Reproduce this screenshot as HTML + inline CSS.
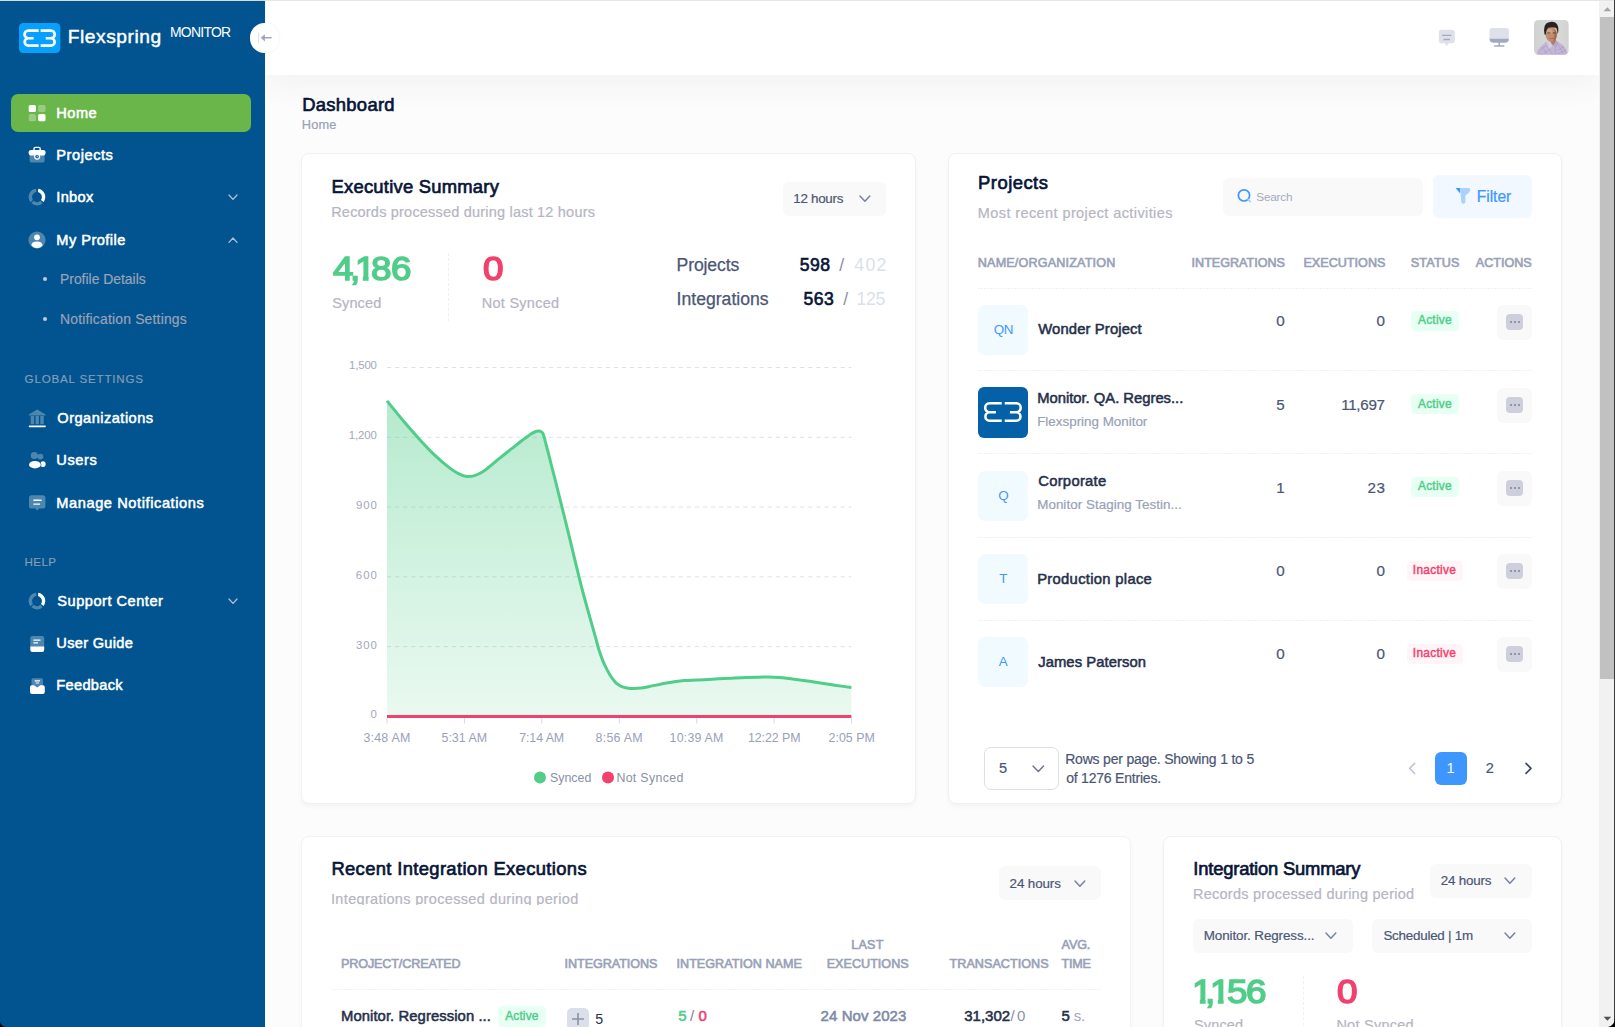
<!DOCTYPE html>
<html lang="en"><head><meta charset="utf-8"><title>Flexspring Monitor - Dashboard</title>
<style>
*{box-sizing:border-box;margin:0;padding:0}
html,body{width:1615px;height:1027px;overflow:hidden;background:#fcfcfc;font-family:"Liberation Sans",sans-serif;}
#app{position:relative;width:1615px;height:1027px;overflow:hidden;background:#fcfcfc}
.t{position:absolute;white-space:nowrap;line-height:1;font-weight:400}
.abs{position:absolute}
.card{position:absolute;background:#fff;border:1px solid #f1f1f3;border-radius:8px;box-shadow:0 3px 4px rgba(0,0,0,.03)}
.dd{position:absolute;background:#f9f9f9;border-radius:6px}
.hdash{position:absolute;height:1px;background:repeating-linear-gradient(90deg,#f0f1f5 0 2px,transparent 2px 3px)}
.av{position:absolute;width:50px;height:50px;border-radius:7px;background:#f1faff}
.bdg{position:absolute;border-radius:4.5px}
.act{position:absolute;width:35px;height:35px;border-radius:6px;background:#f9f9f9}
.act i{position:absolute;left:9.1px;top:9.2px;width:16.7px;height:16.2px;border-radius:4px;background:#cdd0dc}
.act b{position:absolute;top:16.3px;width:2px;height:2px;border-radius:1px;background:#7e8299}
svg{position:absolute;overflow:visible}
</style></head><body><div id="app">
<header class="abs" style="left:265px;top:0;width:1335px;height:74.5px;background:#fff;box-shadow:0 10px 30px rgba(82,63,105,.05)"></header>
<aside class="abs" style="left:0;top:0;width:265px;height:1027px;background:#01548f"></aside>
<div class="abs" style="left:0;top:0;width:1615px;height:1px;background:rgba(226,229,229,.95)"></div>
<div class="abs" style="left:1599px;top:1px;width:16px;height:1026px;background:#f1f1f1"></div>
<div class="abs" style="left:1600px;top:17px;width:14px;height:662px;background:#c1c1c1"></div>
<div class="abs" style="left:1614px;top:0;width:1px;height:1027px;background:#3a3a3a"></div>
<svg style="left:1600px;top:0" width="15" height="1027"><path d="M3.6 11.2 L7.4 7.2 L11.2 11.2Z" fill="#a3a3a3"/><path d="M3.6 1016.8 L11.2 1016.8 L7.4 1020.8Z" fill="#505050"/><path d="M15 1018 L15 1027 L8 1027 Q14.2 1026 15 1018Z" fill="#000"/><path d="M-1600 1021 Q-1599.5 1026.5 -1594 1027 L-1600 1027Z" fill="#0a0a0a"/></svg>
<section class="card" style="left:301px;top:153px;width:615px;height:651px"></section>
<section class="card" style="left:948px;top:153px;width:614px;height:651px"></section>
<section class="card" style="left:301px;top:836px;width:830px;height:300px"></section>
<section class="card" style="left:1163px;top:836px;width:399px;height:300px"></section>
<svg style="left:19.26px;top:22.87px" width="41.3" height="30" viewBox="0 0 41.3 30">
<rect x="0" y="0" width="41.3" height="30" rx="4.2" fill="#06a0fe"/>
<g fill="none" stroke="#fff" stroke-width="2.7" stroke-linecap="butt" stroke-linejoin="round">
<path d="M19.67 7.67 H9.35 A3.8 3.8 0 0 0 9.35 15.27 H14.6 M9.35 15.27 A3.66 3.66 0 0 0 9.35 22.59 H19.67"/>
<path d="M21.62 7.67 H31.95 A3.8 3.8 0 0 1 31.95 15.27 H26.7 M31.95 15.27 A3.66 3.66 0 0 1 31.95 22.59 H21.62"/>
</g></svg>
<span class="t" style="left:67.80px;top:26px;line-height:21px;font-size:19.2px;color:#ffffff;letter-spacing:0.529px;-webkit-text-stroke:.45px #fff;">Flexspring</span>
<span class="t" style="left:170.00px;top:24px;line-height:16px;font-size:13.9px;color:#ffffff;letter-spacing:-0.717px;">MONITOR</span>
<div class="abs" style="left:249.7px;top:22.9px;width:29.7px;height:30px;border-radius:15px;background:#fff;box-shadow:0 0 3px rgba(60,60,90,.08)"></div>
<svg style="left:255px;top:31px" width="20" height="14"><path d="M3.5 1.8V11.8" stroke="#dcdfe9" stroke-width="1.1" fill="none"/><path d="M5.7 6.8 L9.9 3.2 V10.4Z" fill="#a0a5bc"/><path d="M9.5 6.8H16" stroke="#a0a5bc" stroke-width="1.6" fill="none" stroke-linecap="round"/></svg>
<div class="abs" style="left:11.4px;top:94.2px;width:239.3px;height:37.4px;border-radius:7px;background:#6bb64b"></div>
<svg style="left:28px;top:104.2px" width="18" height="18" viewBox="0 0 18 18"><rect x=".7" y=".9" width="7.3" height="7.2" rx="1.6" fill="#fff"/><rect x="10.1" y=".9" width="7.4" height="7.2" rx="1.6" fill="#fff" fill-opacity=".3"/><rect x=".7" y="10.1" width="7.3" height="7.2" rx="1.6" fill="#fff" fill-opacity=".3"/><rect x="10.1" y="10.1" width="7.4" height="7.2" rx="1.6" fill="#fff"/></svg>
<svg style="left:28px;top:146.4px" width="18" height="18" viewBox="0 0 18 18"><path d="M1.6 8 H16.6 V14.4 Q16.6 16.6 14.4 16.6 H3.8 Q1.6 16.6 1.6 14.4Z" fill="#fff" fill-opacity=".3"/><path d="M6 4.2 V2.8 Q6 1.4 7.4 1.4 H10.8 Q12.2 1.4 12.2 2.8 V4.2" fill="none" stroke="#fff" stroke-width="1.4"/><path d="M3 3.9 H15.2 Q17.6 3.9 17.6 6.6 Q17.6 9.6 15.2 9.6 H3 Q0.6 9.6 0.6 6.6 Q0.6 3.9 3 3.9Z" fill="#fff"/><circle cx="9.1" cy="10.6" r="3.1" fill="#fff"/><circle cx="9.1" cy="10.6" r="1.9" fill="#2f6fa3"/><path d="M9.1 10.8 L10 9.6" stroke="#fff" stroke-width=".8" fill="none"/></svg>
<svg style="left:28px;top:188.2px" width="18" height="18" viewBox="0 0 18 18"><path d="M10.3 .7 A8.4 8.4 0 0 1 15.6 14 L12.9 12 A5 5 0 0 0 9.9 4.1Z" fill="#fff"/><path d="M14.6 15.2 A8.4 8.4 0 0 1 3.4 15.3 L5.7 12.8 A5 5 0 0 0 12.3 12.7Z" fill="#fff" fill-opacity=".3"/><path d="M2.4 14.2 A8.4 8.4 0 0 1 8.1 .7 L8.4 4.1 A5 5 0 0 0 5 12Z" fill="#fff" fill-opacity=".3"/></svg>
<svg style="left:28px;top:230.8px" width="18" height="18" viewBox="0 0 18 18"><circle cx="9" cy="9" r="8.6" fill="#fff" fill-opacity=".3"/><circle cx="9" cy="6.3" r="2.9" fill="#fff"/><path d="M3.4 14.6 Q3.6 10.6 9 10.6 Q14.4 10.6 14.6 14.6 Q12.4 17.2 9 17.2 Q5.6 17.2 3.4 14.6Z" fill="#fff"/></svg>
<svg style="left:28px;top:409.4px" width="18" height="18" viewBox="0 0 18 18"><path d="M9.2 .5 L17.6 5.6 V6.6 H.8 V5.6Z" fill="#fff" fill-opacity=".3"/><rect x="2.7" y="7" width="3.4" height="8.2" fill="#fff" fill-opacity=".3"/><rect x="7.5" y="7" width="3.4" height="8.2" fill="#fff" fill-opacity=".3"/><rect x="12.3" y="7" width="3.4" height="8.2" fill="#fff" fill-opacity=".3"/><rect x=".8" y="16.5" width="17" height="1.7" rx=".6" fill="#fff"/></svg>
<svg style="left:28px;top:451.3px" width="18" height="18" viewBox="0 0 18 18"><circle cx="6.3" cy="4.6" r="3.5" fill="#fff" fill-opacity=".3"/><circle cx="12.4" cy="5.6" r="2.9" fill="#fff" fill-opacity=".3"/><ellipse cx="15" cy="13.1" rx="2.7" ry="2.9" fill="#fff"/><ellipse cx="6.9" cy="13.7" rx="6.5" ry="4" fill="#01548f"/><ellipse cx="6.9" cy="13.7" rx="5.9" ry="3.7" fill="#fff"/></svg>
<svg style="left:28px;top:493.8px" width="18" height="18" viewBox="0 0 18 18"><path d="M3.6 1.2 H14.8 Q17.4 1.2 17.4 3.8 V11.9 Q17.4 14.5 14.8 14.5 H11 L9.2 16.8 L7.4 14.5 H3.6 Q1 14.5 1 11.9 V3.8 Q1 1.2 3.6 1.2Z" fill="#fff" fill-opacity=".3"/><path d="M5.4 6.2 H13.6 M5.4 10.1 H12" stroke="#fff" stroke-width="1.4" fill="none"/></svg>
<svg style="left:28px;top:592.0px" width="18" height="18" viewBox="0 0 18 18"><path d="M10.3 .7 A8.4 8.4 0 0 1 15.6 14 L12.9 12 A5 5 0 0 0 9.9 4.1Z" fill="#fff"/><path d="M14.6 15.2 A8.4 8.4 0 0 1 3.4 15.3 L5.7 12.8 A5 5 0 0 0 12.3 12.7Z" fill="#fff" fill-opacity=".3"/><path d="M2.4 14.2 A8.4 8.4 0 0 1 8.1 .7 L8.4 4.1 A5 5 0 0 0 5 12Z" fill="#fff" fill-opacity=".3"/></svg>
<svg style="left:28px;top:634.6px" width="18" height="18" viewBox="0 0 18 18"><path d="M4.3 1.1 H14.2 Q16.2 1.1 16.2 3.1 V12.2 H2.3 V3.1 Q2.3 1.1 4.3 1.1Z" fill="#fff" fill-opacity=".3"/><path d="M5.4 5.2 H12.5 M5.4 7.8 H10" stroke="#fff" stroke-width="1.2" fill="none"/><path d="M2.3 11.6 H16.2 V15 Q16.2 17 14.2 17 H4.3 Q2.3 17 2.3 15Z" fill="#fff"/></svg>
<svg style="left:28px;top:676.8px" width="18" height="18" viewBox="0 0 18 18"><path d="M5 1.2 H13.4 Q14.9 1.2 14.9 2.7 V12 H3.5 V2.7 Q3.5 1.2 5 1.2Z" fill="#fff" fill-opacity=".3"/><path d="M6.7 3.9 H12 M7.7 6 H11" stroke="#fff" stroke-width="1.1" fill="none"/><path d="M3.6 8.2 H6 L9.2 10.6 L12.4 8.2 H14.8 Q16.8 8.2 16.8 10.2 V15 Q16.8 17 14.8 17 H4 Q2 17 2 15 V10.2 Q2 8.2 3.6 8.2Z" fill="#fff"/></svg>
<span class="t" style="left:56.30px;top:105px;line-height:16px;font-size:14.6px;color:#ffffff;-webkit-text-stroke:0.53px #ffffff;letter-spacing:0.463px;">Home</span>
<span class="t" style="left:56.30px;top:147px;line-height:16px;font-size:14.6px;color:#ffffff;-webkit-text-stroke:0.53px #ffffff;letter-spacing:0.554px;">Projects</span>
<span class="t" style="left:56.30px;top:189px;line-height:16px;font-size:14.6px;color:#ffffff;-webkit-text-stroke:0.53px #ffffff;letter-spacing:0.299px;">Inbox</span>
<span class="t" style="left:56.30px;top:232px;line-height:16px;font-size:14.6px;color:#ffffff;-webkit-text-stroke:0.53px #ffffff;letter-spacing:0.471px;">My Profile</span>
<span class="t" style="left:57.30px;top:410px;line-height:16px;font-size:14.6px;color:#ffffff;-webkit-text-stroke:0.53px #ffffff;letter-spacing:0.480px;">Organizations</span>
<span class="t" style="left:56.30px;top:452px;line-height:16px;font-size:14.6px;color:#ffffff;-webkit-text-stroke:0.53px #ffffff;letter-spacing:0.597px;">Users</span>
<span class="t" style="left:56.30px;top:495px;line-height:16px;font-size:14.6px;color:#ffffff;-webkit-text-stroke:0.53px #ffffff;letter-spacing:0.590px;">Manage Notifications</span>
<span class="t" style="left:57.30px;top:593px;line-height:16px;font-size:14.6px;color:#ffffff;-webkit-text-stroke:0.53px #ffffff;letter-spacing:0.507px;">Support Center</span>
<span class="t" style="left:56.30px;top:635px;line-height:16px;font-size:14.6px;color:#ffffff;-webkit-text-stroke:0.53px #ffffff;letter-spacing:0.301px;">User Guide</span>
<span class="t" style="left:56.30px;top:677px;line-height:16px;font-size:14.6px;color:#ffffff;-webkit-text-stroke:0.53px #ffffff;letter-spacing:0.315px;">Feedback</span>
<span class="t" style="left:60.00px;top:271px;line-height:16px;font-size:13.9px;color:#9aa3b8;-webkit-text-stroke:0.19px #9aa3b8;">Profile Details</span>
<span class="t" style="left:60.00px;top:311px;line-height:16px;font-size:13.9px;color:#9aa3b8;-webkit-text-stroke:0.19px #9aa3b8;letter-spacing:0.199px;">Notification Settings</span>
<div class="abs" style="left:43.4px;top:277.2px;width:4px;height:4px;border-radius:2px;background:#c4c8dc"></div>
<div class="abs" style="left:43.4px;top:317.4px;width:4px;height:4px;border-radius:2px;background:#c4c8dc"></div>
<span class="t" style="left:24.60px;top:372px;line-height:13px;font-size:11.6px;color:#879db8;-webkit-text-stroke:0.16px #879db8;letter-spacing:0.810px;">GLOBAL SETTINGS</span>
<span class="t" style="left:24.60px;top:555px;line-height:13px;font-size:11.6px;color:#879db8;-webkit-text-stroke:0.16px #879db8;letter-spacing:0.349px;">HELP</span>
<svg style="left:229.2px;top:195.4px" width="8" height="4.4"><path d="M0 0 L4.0 4.4 L8 0" fill="none" stroke="#aebfd6" stroke-width="1.3" stroke-linecap="round" stroke-linejoin="round"/></svg>
<svg style="left:229.2px;top:237.6px" width="8" height="4.4"><path d="M0 4.4 L4.0 0 L8 4.4" fill="none" stroke="#aebfd6" stroke-width="1.3" stroke-linecap="round" stroke-linejoin="round"/></svg>
<svg style="left:229.2px;top:599.0px" width="8" height="4.4"><path d="M0 0 L4.0 4.4 L8 0" fill="none" stroke="#aebfd6" stroke-width="1.3" stroke-linecap="round" stroke-linejoin="round"/></svg>
<svg style="left:1438px;top:29px" width="18" height="18" viewBox="0 0 18 18"><path d="M3.6 .8 H14 Q16.8 .8 16.8 3.6 V11.4 Q16.8 14.2 14 14.2 H10.8 L8.8 16.9 L6.8 14.2 H3.6 Q.8 14.2 .8 11.4 V3.6 Q.8 .8 3.6 .8Z" fill="#dfe1ea"/><path d="M4 6.4 H13.2 M5.5 10.5 H12" stroke="#a3a8bd" stroke-width="1.3" fill="none"/></svg>
<svg style="left:1489px;top:27px" width="21" height="21" viewBox="0 0 21 21"><path d="M3.4 1 H17 Q19.9 1 19.9 3.8 V12 H.5 V3.8 Q.5 1 3.4 1Z" fill="#dfe1ea"/><path d="M.5 11.7 H19.9 Q19.9 15.8 15.6 15.8 H4.8 Q.5 15.8 .5 11.7Z" fill="#a3a8bd"/><path d="M10.2 15.6 V18.8 M5.6 19.1 H14.8" stroke="#a3a8bd" stroke-width="1.5" fill="none" stroke-linecap="round"/></svg>
<svg style="left:1534.1px;top:20.1px" width="34.8" height="34.8" viewBox="0 0 35 35"><defs><clipPath id="avc"><rect width="35" height="35" rx="4.6"/></clipPath><filter id="avb" x="-10%" y="-10%" width="120%" height="120%"><feGaussianBlur stdDeviation=".55"/></filter>
<linearGradient id="avg" x1="0" x2="1" y1="0" y2="0"><stop offset="0" stop-color="#d0d3d1"/><stop offset=".7" stop-color="#d9dad8"/><stop offset="1" stop-color="#d2d3d0"/></linearGradient></defs>
<g clip-path="url(#avc)"><rect width="35" height="35" fill="url(#avg)"/><g filter="url(#avb)">
<path d="M2.4 36 Q2.6 29.6 7 26.6 L12.4 21.4 L15.4 19.6 L22 21.2 L24.6 21.8 Q29.4 24.6 32 28.6 Q33.6 31.6 33.6 36Z" fill="#c3b7d6"/>
<path d="M15 20.4 L19.4 25.6 L22.4 21.6 L21.8 18 H15.4Z" fill="#b07c5e"/>
<path d="M12.4 21.6 L15.2 19.6 L18.4 26 L15.4 29.4Z" fill="#d6cde4"/>
<path d="M22 21.2 L24.6 22.4 L22.4 27.8 L19.4 25.6Z" fill="#b4a5cc"/>
<path d="M8 27 L13 34 M12 25 L19 35 M4 31 L8 35 M21 27 L21.6 35 M24 23.6 L29.4 34 M27.6 25.6 L32.6 33 M6 30.4 L12 25.8 M9.6 34 L17 28.6 M22.6 30.6 L30 27 M23 34.4 L32 30.4" stroke="#9577bd" stroke-width=".7" fill="none" opacity=".45"/>
<ellipse cx="17.4" cy="14.2" rx="5.9" ry="7.6" fill="#c08d6e"/>
<ellipse cx="15.6" cy="11.4" rx="3" ry="2.6" fill="#cfa286"/>
<path d="M20.4 9 Q23.4 12 22.6 17.4 Q21.4 20.6 19 21.6 Q21.4 17 20.4 9Z" fill="#9a6a50"/>
<path d="M10.6 14.6 Q8.6 3.6 15 2.2 Q21 0.6 23.6 5 Q25.4 8.6 23.8 14.4 Q23.4 10 22.4 8 Q18.6 6.6 14.6 7.8 Q12.4 9 11.8 14.8Z" fill="#2a2321"/>
<path d="M13.4 13 H16.4 M19 13 H21.8" stroke="#5a4640" stroke-width="1" fill="none"/>
<path d="M15.6 18.3 Q17.8 19.2 20 18.2" stroke="#a2605a" stroke-width=".9" fill="none"/>
</g></g></svg>
<span class="t" style="left:302.30px;top:94px;line-height:21px;font-size:18.4px;color:#071437;-webkit-text-stroke:0.66px #071437;letter-spacing:0.282px;">Dashboard</span>
<span class="t" style="left:301.80px;top:117px;line-height:15px;font-size:12.8px;color:#99a1b7;-webkit-text-stroke:0.18px #99a1b7;letter-spacing:0.127px;">Home</span>
<span class="t" style="left:331.50px;top:176px;line-height:21px;font-size:18.4px;color:#071437;-webkit-text-stroke:0.66px #071437;letter-spacing:0.242px;">Executive Summary</span>
<span class="t" style="left:331.20px;top:204px;line-height:16px;font-size:14.5px;color:#b5b5c3;-webkit-text-stroke:0.20px #b5b5c3;letter-spacing:0.201px;">Records processed during last 12 hours</span>
<div class="dd" style="left:783.3px;top:182px;width:102.7px;height:33.6px"></div>
<span class="t" style="left:793.30px;top:191px;line-height:15px;font-size:13.4px;color:#4b5675;-webkit-text-stroke:0.19px #4b5675;letter-spacing:-0.288px;">12 hours</span>
<svg style="left:859.8px;top:196.2px" width="9.8" height="5.3"><path d="M0 0 L4.9 5.3 L9.8 0" fill="none" stroke="#7680a0" stroke-width="1.45" stroke-linecap="round" stroke-linejoin="round"/></svg>
<span class="t" style="left:332.20px;top:295px;line-height:16px;font-size:14.5px;color:#b5b5c3;-webkit-text-stroke:0.20px #b5b5c3;letter-spacing:0.140px;">Synced</span>
<span class="t" style="left:481.80px;top:295px;line-height:16px;font-size:14.5px;color:#b5b5c3;-webkit-text-stroke:0.20px #b5b5c3;letter-spacing:0.256px;">Not Synced</span>
<div class="abs" style="left:448px;top:253px;width:0;height:68px;border-left:1px dashed #f0f0f4"></div>
<span class="t" style="left:676.60px;top:255px;line-height:20px;font-size:17.6px;color:#4b5675;-webkit-text-stroke:0.25px #4b5675;letter-spacing:-0.137px;">Projects</span>
<span class="t" style="left:676.60px;top:289px;line-height:20px;font-size:17.6px;color:#4b5675;-webkit-text-stroke:0.25px #4b5675;letter-spacing:0.005px;">Integrations</span>
<span class="t" style="left:799.80px;top:255px;line-height:20px;font-size:17.6px;color:#071437;-webkit-text-stroke:0.63px #071437;letter-spacing:0.415px;">598</span>
<span class="t" style="left:803.60px;top:289px;line-height:20px;font-size:17.6px;color:#071437;-webkit-text-stroke:0.63px #071437;letter-spacing:0.415px;">563</span>
<span class="t" style="left:839.20px;top:255px;line-height:20px;font-size:17.6px;color:#8a90a8;">/</span>
<span class="t" style="left:843.20px;top:289px;line-height:20px;font-size:17.6px;color:#8a90a8;">/</span>
<span class="t" style="left:854.20px;top:255px;line-height:20px;font-size:17.6px;color:#dbdfe9;letter-spacing:1.415px;">402</span>
<span class="t" style="left:856.60px;top:289px;line-height:20px;font-size:17.6px;color:#dbdfe9;letter-spacing:-0.285px;">125</span>
<svg style="left:0;top:0" width="1615" height="1027"><defs><linearGradient id="ga" x1="0" y1="400" x2="0" y2="716" gradientUnits="userSpaceOnUse"><stop offset="0" stop-color="#50cd89" stop-opacity=".42"/><stop offset=".45" stop-color="#50cd89" stop-opacity=".28"/><stop offset="1" stop-color="#50cd89" stop-opacity=".12"/></linearGradient></defs>
<path d="M387 367.5 H851.5" stroke="#dfe1ea" stroke-width="1" stroke-dasharray="4.2 3.9" fill="none"/><path d="M387 437.3 H851.5" stroke="#dfe1ea" stroke-width="1" stroke-dasharray="4.2 3.9" fill="none"/><path d="M387 507.0 H851.5" stroke="#dfe1ea" stroke-width="1" stroke-dasharray="4.2 3.9" fill="none"/><path d="M387 576.8 H851.5" stroke="#dfe1ea" stroke-width="1" stroke-dasharray="4.2 3.9" fill="none"/><path d="M387 646.6 H851.5" stroke="#dfe1ea" stroke-width="1" stroke-dasharray="4.2 3.9" fill="none"/><path d="M387.0 718 V723.5" stroke="#d6d9e3" stroke-width="1" fill="none"/><path d="M464.4 718 V723.5" stroke="#d6d9e3" stroke-width="1" fill="none"/><path d="M541.8 718 V723.5" stroke="#d6d9e3" stroke-width="1" fill="none"/><path d="M619.3 718 V723.5" stroke="#d6d9e3" stroke-width="1" fill="none"/><path d="M696.7 718 V723.5" stroke="#d6d9e3" stroke-width="1" fill="none"/><path d="M774.1 718 V723.5" stroke="#d6d9e3" stroke-width="1" fill="none"/><path d="M851.5 718 V723.5" stroke="#d6d9e3" stroke-width="1" fill="none"/>
<path d="M387.0 400.9C387.0 400.9 397.0 413.3 402.2 419.5C407.4 425.7 412.9 432.0 418.3 438.0C423.6 443.8 428.9 449.7 434.4 454.9C439.6 459.9 446.0 465.3 450.5 468.6C453.5 470.8 455.8 472.3 458.5 473.6C461.1 474.9 463.9 476.2 466.6 476.5C469.2 476.8 472.0 476.3 474.6 475.6C477.4 474.8 479.7 473.7 482.7 471.8C487.3 468.9 494.5 462.4 498.8 458.9C501.7 456.6 503.8 454.9 506.2 453.0C508.4 451.3 510.3 449.7 512.4 448.1C514.5 446.5 516.5 444.8 518.6 443.2C520.7 441.6 522.7 439.9 524.8 438.4C526.9 436.9 529.2 435.1 531.0 434.0C532.4 433.2 533.4 432.5 534.7 432.0C535.9 431.5 537.3 431.1 538.4 431.1C539.3 431.1 540.2 431.1 540.9 431.5C541.6 431.9 542.2 432.5 542.7 433.2C543.3 434.1 543.6 435.4 544.0 436.6C544.5 438.0 544.8 439.5 545.2 441.2C545.8 443.3 546.4 445.8 547.1 448.4C547.9 451.3 548.7 454.4 549.5 457.7C550.5 461.5 551.6 465.9 552.6 469.8C553.5 473.3 554.1 475.7 555.2 480.0C557.1 487.7 560.7 501.8 563.2 512.0C565.5 521.2 567.2 528.0 569.7 538.4C573.3 553.2 578.4 575.0 583.0 592.5C587.4 609.1 594.0 631.8 596.5 641.0C597.5 644.7 597.7 645.9 598.6 648.7C599.7 652.1 601.2 656.5 602.5 659.9C603.6 662.8 604.7 665.1 606.0 667.7C607.3 670.3 608.8 673.1 610.3 675.5C611.7 677.7 613.3 679.8 614.7 681.4C615.8 682.7 616.8 683.7 618.1 684.6C619.6 685.6 621.5 686.6 623.3 687.2C625.0 687.8 626.8 688.1 628.5 688.3C630.2 688.5 631.8 688.5 633.7 688.5C635.9 688.5 638.3 688.4 640.7 688.1C643.4 687.8 645.9 687.2 649.3 686.5C654.1 685.6 660.9 684.0 666.7 683.0C672.5 682.0 678.7 681.1 684.0 680.6C688.5 680.2 692.1 680.2 696.5 680.0C701.5 679.8 706.6 679.5 712.3 679.2C719.1 678.8 727.2 678.2 734.6 677.9C742.0 677.6 750.7 677.3 756.9 677.2C761.2 677.1 764.3 677.0 768.0 677.1C771.7 677.2 775.1 677.3 779.2 677.6C784.2 678.0 790.3 678.7 795.9 679.4C801.5 680.1 806.6 680.9 812.6 681.8C819.5 682.8 828.0 684.2 834.9 685.2C840.8 686.1 851.4 687.6 851.4 687.6 L851.4 716.5 L387 716.5Z" fill="url(#ga)"/>
<path d="M387.0 400.9C387.0 400.9 397.0 413.3 402.2 419.5C407.4 425.7 412.9 432.0 418.3 438.0C423.6 443.8 428.9 449.7 434.4 454.9C439.6 459.9 446.0 465.3 450.5 468.6C453.5 470.8 455.8 472.3 458.5 473.6C461.1 474.9 463.9 476.2 466.6 476.5C469.2 476.8 472.0 476.3 474.6 475.6C477.4 474.8 479.7 473.7 482.7 471.8C487.3 468.9 494.5 462.4 498.8 458.9C501.7 456.6 503.8 454.9 506.2 453.0C508.4 451.3 510.3 449.7 512.4 448.1C514.5 446.5 516.5 444.8 518.6 443.2C520.7 441.6 522.7 439.9 524.8 438.4C526.9 436.9 529.2 435.1 531.0 434.0C532.4 433.2 533.4 432.5 534.7 432.0C535.9 431.5 537.3 431.1 538.4 431.1C539.3 431.1 540.2 431.1 540.9 431.5C541.6 431.9 542.2 432.5 542.7 433.2C543.3 434.1 543.6 435.4 544.0 436.6C544.5 438.0 544.8 439.5 545.2 441.2C545.8 443.3 546.4 445.8 547.1 448.4C547.9 451.3 548.7 454.4 549.5 457.7C550.5 461.5 551.6 465.9 552.6 469.8C553.5 473.3 554.1 475.7 555.2 480.0C557.1 487.7 560.7 501.8 563.2 512.0C565.5 521.2 567.2 528.0 569.7 538.4C573.3 553.2 578.4 575.0 583.0 592.5C587.4 609.1 594.0 631.8 596.5 641.0C597.5 644.7 597.7 645.9 598.6 648.7C599.7 652.1 601.2 656.5 602.5 659.9C603.6 662.8 604.7 665.1 606.0 667.7C607.3 670.3 608.8 673.1 610.3 675.5C611.7 677.7 613.3 679.8 614.7 681.4C615.8 682.7 616.8 683.7 618.1 684.6C619.6 685.6 621.5 686.6 623.3 687.2C625.0 687.8 626.8 688.1 628.5 688.3C630.2 688.5 631.8 688.5 633.7 688.5C635.9 688.5 638.3 688.4 640.7 688.1C643.4 687.8 645.9 687.2 649.3 686.5C654.1 685.6 660.9 684.0 666.7 683.0C672.5 682.0 678.7 681.1 684.0 680.6C688.5 680.2 692.1 680.2 696.5 680.0C701.5 679.8 706.6 679.5 712.3 679.2C719.1 678.8 727.2 678.2 734.6 677.9C742.0 677.6 750.7 677.3 756.9 677.2C761.2 677.1 764.3 677.0 768.0 677.1C771.7 677.2 775.1 677.3 779.2 677.6C784.2 678.0 790.3 678.7 795.9 679.4C801.5 680.1 806.6 680.9 812.6 681.8C819.5 682.8 828.0 684.2 834.9 685.2C840.8 686.1 851.4 687.6 851.4 687.6" fill="none" stroke="#50cd89" stroke-width="3" stroke-linecap="butt"/>
<path d="M387 716.5 H851.4" stroke="#f1416c" stroke-width="3" fill="none"/>
<circle cx="540" cy="777.4" r="6" fill="#50cd89"/><circle cx="608" cy="777.4" r="6" fill="#f1416c"/>
</svg>
<span class="t" style="left:349.00px;top:359px;line-height:12px;font-size:11.4px;color:#a1a8bc;letter-spacing:-0.142px;">1,500</span>
<span class="t" style="left:348.80px;top:429px;line-height:12px;font-size:11.4px;color:#a1a8bc;letter-spacing:-0.092px;">1,200</span>
<span class="t" style="left:356.00px;top:499px;line-height:12px;font-size:11.4px;color:#a1a8bc;letter-spacing:0.965px;">900</span>
<span class="t" style="left:355.80px;top:569px;line-height:12px;font-size:11.4px;color:#a1a8bc;letter-spacing:1.065px;">600</span>
<span class="t" style="left:356.00px;top:639px;line-height:12px;font-size:11.4px;color:#a1a8bc;letter-spacing:0.965px;">300</span>
<span class="t" style="left:370.60px;top:708px;line-height:12px;font-size:11.4px;color:#a1a8bc;">0</span>
<span class="t" style="left:363.40px;top:731px;line-height:14px;font-size:12.4px;color:#99a1b7;letter-spacing:0.230px;">3:48 AM</span>
<span class="t" style="left:441.52px;top:731px;line-height:14px;font-size:12.4px;color:#99a1b7;">5:31 AM</span>
<span class="t" style="left:519.14px;top:731px;line-height:14px;font-size:12.4px;color:#99a1b7;letter-spacing:-0.070px;">7:14 AM</span>
<span class="t" style="left:595.46px;top:731px;line-height:14px;font-size:12.4px;color:#99a1b7;letter-spacing:0.296px;">8:56 AM</span>
<span class="t" style="left:669.58px;top:731px;line-height:14px;font-size:12.4px;color:#99a1b7;letter-spacing:0.212px;">10:39 AM</span>
<span class="t" style="left:747.90px;top:731px;line-height:14px;font-size:12.4px;color:#99a1b7;letter-spacing:-0.045px;">12:22 PM</span>
<span class="t" style="left:828.52px;top:731px;line-height:14px;font-size:12.4px;color:#99a1b7;letter-spacing:0.030px;">2:05 PM</span>
<span class="t" style="left:550.00px;top:771px;line-height:14px;font-size:12.4px;color:#8a90a6;letter-spacing:-0.007px;">Synced</span>
<span class="t" style="left:616.40px;top:771px;line-height:14px;font-size:12.4px;color:#8a90a6;letter-spacing:0.315px;">Not Synced</span>
<span class="t" style="left:978.10px;top:172px;line-height:21px;font-size:18.4px;color:#071437;-webkit-text-stroke:0.66px #071437;letter-spacing:0.480px;">Projects</span>
<span class="t" style="left:977.80px;top:205px;line-height:16px;font-size:14.5px;color:#b5b5c3;-webkit-text-stroke:0.20px #b5b5c3;letter-spacing:0.404px;">Most recent project activities</span>
<div class="dd" style="left:1223px;top:178px;width:199.6px;height:38px"></div>
<svg style="left:1236px;top:188px" width="16" height="16"><circle cx="8" cy="7.4" r="5.6" fill="none" stroke="#3e97ff" stroke-width="1.7"/><path d="M12.2 11.6 L14.2 13.6" stroke="#a9d0ff" stroke-width="1.6" stroke-linecap="round"/></svg>
<span class="t" style="left:1256.30px;top:190px;line-height:14px;font-size:11.8px;color:#a3a9be;letter-spacing:-0.243px;">Search</span>
<div class="abs" style="left:1432.7px;top:174.7px;width:99.3px;height:43.8px;border-radius:6px;background:#f1f8ff"></div>
<svg style="left:1455px;top:187px" width="16" height="18" viewBox="0 0 16 18"><path d="M.6 1 H5.4 L5.2 6.4Z" fill="#3e97ff"/><path d="M5.6 1 H13.4 Q15.4 1 15.2 3 Q15 5 13 6.4 L10.4 8.4 V14.6 Q10.4 16.8 8.2 16.8 Q6.4 16.8 6.2 14.6 L5.8 8 Z" fill="#a9d2ff"/></svg>
<span class="t" style="left:1476.80px;top:188px;line-height:17px;font-size:15.6px;color:#3e97ff;-webkit-text-stroke:0.22px #3e97ff;letter-spacing:-0.052px;">Filter</span>
<span class="t" style="left:977.80px;top:256px;line-height:14px;font-size:12.6px;color:#99a1b7;-webkit-text-stroke:0.62px #99a1b7;letter-spacing:0.168px;">NAME/ORGANIZATION</span>
<span class="t" style="left:1191.60px;top:256px;line-height:14px;font-size:12.6px;color:#99a1b7;-webkit-text-stroke:0.62px #99a1b7;letter-spacing:-0.011px;">INTEGRATIONS</span>
<span class="t" style="left:1303.40px;top:256px;line-height:14px;font-size:12.6px;color:#99a1b7;-webkit-text-stroke:0.62px #99a1b7;letter-spacing:0.014px;">EXECUTIONS</span>
<span class="t" style="left:1410.80px;top:256px;line-height:14px;font-size:12.6px;color:#99a1b7;-webkit-text-stroke:0.62px #99a1b7;letter-spacing:0.158px;">STATUS</span>
<span class="t" style="left:1475.80px;top:256px;line-height:14px;font-size:12.6px;color:#99a1b7;-webkit-text-stroke:0.62px #99a1b7;">ACTIONS</span>
<div class="hdash" style="left:978px;top:288px;width:554px"></div>
<div class="hdash" style="left:978px;top:370px;width:554px"></div>
<div class="hdash" style="left:978px;top:453px;width:554px"></div>
<div class="hdash" style="left:978px;top:537px;width:554px"></div>
<div class="hdash" style="left:978px;top:620px;width:554px"></div>
<div class="av" style="left:978.3px;top:304.7px"></div>
<span class="t" style="left:993.70px;top:322px;line-height:15px;font-size:13.4px;color:#3e97ff;letter-spacing:-0.416px;">QN</span>
<span class="t" style="left:1038.20px;top:321px;line-height:16px;font-size:14.8px;color:#252f4a;-webkit-text-stroke:0.53px #252f4a;letter-spacing:0.139px;">Wonder Project</span>
<span class="t" style="left:1276.30px;top:312px;line-height:17px;font-size:15.2px;color:#4b5675;-webkit-text-stroke:0.21px #4b5675;">0</span>
<span class="t" style="left:1376.60px;top:312px;line-height:17px;font-size:15.2px;color:#4b5675;-webkit-text-stroke:0.21px #4b5675;">0</span>
<div class="bdg" style="left:1411.2px;top:311.0px;width:47.6px;height:19.8px;background:#e8fff3"></div>
<span class="t" style="left:1418.00px;top:313px;line-height:14px;font-size:11.9px;color:#50cd89;-webkit-text-stroke:0.43px #50cd89;letter-spacing:0.247px;">Active</span>
<div class="act" style="left:1497px;top:304.6px"><i></i><b style="left:12.7px"></b><b style="left:16.9px"></b><b style="left:21.1px"></b></div>
<div class="av" style="left:978.1px;top:387.1px;height:50.6px;border-radius:6px;background:#0561a7"></div>
<svg style="left:978.14px;top:387.14px" width="50" height="50" viewBox="0 0 50 50"><g fill="none" stroke="#fff" stroke-width="2.6" stroke-linecap="butt" stroke-linejoin="round">
<path d="M23.77 16.3 H11.44 A4.47 4.47 0 0 0 11.44 25.23 H17.93 M11.44 25.23 A4.24 4.24 0 0 0 11.44 33.7 H23.77"/>
<path d="M26.7 16.3 H38.43 A4.47 4.47 0 0 1 38.43 25.23 H31.95 M38.43 25.23 A4.24 4.24 0 0 1 38.43 33.7 H26.7"/></g></svg>
<span class="t" style="left:1037.20px;top:390px;line-height:16px;font-size:14.8px;color:#252f4a;-webkit-text-stroke:0.53px #252f4a;letter-spacing:-0.013px;">Monitor. QA. Regres...</span>
<span class="t" style="left:1037.20px;top:414px;line-height:15px;font-size:13.4px;color:#99a1b7;-webkit-text-stroke:0.19px #99a1b7;">Flexspring Monitor</span>
<span class="t" style="left:1276.30px;top:396px;line-height:17px;font-size:15.2px;color:#4b5675;-webkit-text-stroke:0.21px #4b5675;">5</span>
<span class="t" style="left:1341.20px;top:396px;line-height:17px;font-size:15.2px;color:#4b5675;-webkit-text-stroke:0.21px #4b5675;letter-spacing:-0.296px;">11,697</span>
<div class="bdg" style="left:1411.2px;top:394.4px;width:47.6px;height:19.8px;background:#e8fff3"></div>
<span class="t" style="left:1418.00px;top:397px;line-height:14px;font-size:11.9px;color:#50cd89;-webkit-text-stroke:0.43px #50cd89;letter-spacing:0.247px;">Active</span>
<div class="act" style="left:1497px;top:387.5px"><i></i><b style="left:12.7px"></b><b style="left:16.9px"></b><b style="left:21.1px"></b></div>
<div class="av" style="left:978.3px;top:471.0px"></div>
<span class="t" style="left:998.20px;top:488px;line-height:15px;font-size:13.4px;color:#3e97ff;">Q</span>
<span class="t" style="left:1038.20px;top:473px;line-height:16px;font-size:14.8px;color:#252f4a;-webkit-text-stroke:0.53px #252f4a;letter-spacing:0.279px;">Corporate</span>
<span class="t" style="left:1037.20px;top:497px;line-height:15px;font-size:13.4px;color:#99a1b7;-webkit-text-stroke:0.19px #99a1b7;letter-spacing:0.045px;">Monitor Staging Testin...</span>
<span class="t" style="left:1276.30px;top:479px;line-height:17px;font-size:15.2px;color:#4b5675;-webkit-text-stroke:0.21px #4b5675;">1</span>
<span class="t" style="left:1367.60px;top:479px;line-height:17px;font-size:15.2px;color:#4b5675;-webkit-text-stroke:0.21px #4b5675;letter-spacing:0.553px;">23</span>
<div class="bdg" style="left:1411.2px;top:477.0px;width:47.6px;height:19.8px;background:#e8fff3"></div>
<span class="t" style="left:1418.00px;top:479px;line-height:14px;font-size:11.9px;color:#50cd89;-webkit-text-stroke:0.43px #50cd89;letter-spacing:0.247px;">Active</span>
<div class="act" style="left:1497px;top:470.7px"><i></i><b style="left:12.7px"></b><b style="left:16.9px"></b><b style="left:21.1px"></b></div>
<div class="av" style="left:978.3px;top:554.0px"></div>
<span class="t" style="left:999.20px;top:571px;line-height:15px;font-size:13.4px;color:#3e97ff;">T</span>
<span class="t" style="left:1037.20px;top:571px;line-height:16px;font-size:14.8px;color:#252f4a;-webkit-text-stroke:0.53px #252f4a;letter-spacing:0.294px;">Production place</span>
<span class="t" style="left:1276.30px;top:562px;line-height:17px;font-size:15.2px;color:#4b5675;-webkit-text-stroke:0.21px #4b5675;">0</span>
<span class="t" style="left:1376.60px;top:562px;line-height:17px;font-size:15.2px;color:#4b5675;-webkit-text-stroke:0.21px #4b5675;">0</span>
<div class="bdg" style="left:1407.1px;top:561.0px;width:55.8px;height:19.8px;background:#fff5f8"></div>
<span class="t" style="left:1412.80px;top:563px;line-height:14px;font-size:11.9px;color:#f1416c;-webkit-text-stroke:0.43px #f1416c;letter-spacing:0.291px;">Inactive</span>
<div class="act" style="left:1497px;top:554.0px"><i></i><b style="left:12.7px"></b><b style="left:16.9px"></b><b style="left:21.1px"></b></div>
<div class="av" style="left:978.3px;top:636.9px"></div>
<span class="t" style="left:998.70px;top:654px;line-height:15px;font-size:13.4px;color:#3e97ff;">A</span>
<span class="t" style="left:1038.20px;top:654px;line-height:16px;font-size:14.8px;color:#252f4a;-webkit-text-stroke:0.53px #252f4a;letter-spacing:0.070px;">James Paterson</span>
<span class="t" style="left:1276.30px;top:645px;line-height:17px;font-size:15.2px;color:#4b5675;-webkit-text-stroke:0.21px #4b5675;">0</span>
<span class="t" style="left:1376.60px;top:645px;line-height:17px;font-size:15.2px;color:#4b5675;-webkit-text-stroke:0.21px #4b5675;">0</span>
<div class="bdg" style="left:1407.1px;top:643.8px;width:55.8px;height:19.8px;background:#fff5f8"></div>
<span class="t" style="left:1412.80px;top:646px;line-height:14px;font-size:11.9px;color:#f1416c;-webkit-text-stroke:0.43px #f1416c;letter-spacing:0.291px;">Inactive</span>
<div class="act" style="left:1497px;top:637.0px"><i></i><b style="left:12.7px"></b><b style="left:16.9px"></b><b style="left:21.1px"></b></div>
<div class="abs" style="left:984.4px;top:747.2px;width:75px;height:42.4px;border:1px solid #dbdfe9;border-radius:7px;background:#fff"></div>
<span class="t" style="left:999.00px;top:760px;line-height:16px;font-size:14.6px;color:#4b5675;-webkit-text-stroke:0.20px #4b5675;">5</span>
<svg style="left:1032.8px;top:766.2px" width="10.6" height="5.6"><path d="M0 0 L5.3 5.6 L10.6 0" fill="none" stroke="#6a7492" stroke-width="1.4" stroke-linecap="round" stroke-linejoin="round"/></svg>
<span class="t" style="left:1065.20px;top:751px;line-height:16px;font-size:14.0px;color:#4b5675;-webkit-text-stroke:0.20px #4b5675;letter-spacing:-0.199px;">Rows per page. Showing 1 to 5</span>
<span class="t" style="left:1066.20px;top:770px;line-height:16px;font-size:14.0px;color:#4b5675;-webkit-text-stroke:0.20px #4b5675;letter-spacing:-0.211px;">of 1276 Entries.</span>
<svg style="left:1408px;top:762px" width="8" height="13"><path d="M6.6 1.4 L1.6 6.4 L6.6 11.4" fill="none" stroke="#c4c8d6" stroke-width="1.6" stroke-linecap="round" stroke-linejoin="round"/></svg>
<div class="abs" style="left:1435px;top:752px;width:32.3px;height:32.5px;border-radius:6px;background:#3e97ff"></div>
<span class="t" style="left:1446.50px;top:760px;line-height:16px;font-size:14.6px;color:#fff;">1</span>
<span class="t" style="left:1485.80px;top:760px;line-height:16px;font-size:14.6px;color:#4b5675;-webkit-text-stroke:0.20px #4b5675;">2</span>
<svg style="left:1524px;top:762px" width="9" height="13"><path d="M2 1.4 L7 6.4 L2 11.4" fill="none" stroke="#3f4a66" stroke-width="1.7" stroke-linecap="round" stroke-linejoin="round"/></svg>
<span class="t" style="left:331.40px;top:858px;line-height:21px;font-size:18.4px;color:#071437;-webkit-text-stroke:0.66px #071437;letter-spacing:0.351px;">Recent Integration Executions</span>
<span class="t" style="left:331.00px;top:891px;line-height:16px;font-size:14.5px;color:#b5b5c3;-webkit-text-stroke:0.20px #b5b5c3;letter-spacing:0.340px;clip-path:inset(0 0 1.9px 0);">Integrations processed during period</span>
<div class="dd" style="left:999px;top:866px;width:101.7px;height:34px"></div>
<span class="t" style="left:1009.60px;top:876px;line-height:15px;font-size:13.4px;color:#4b5675;-webkit-text-stroke:0.19px #4b5675;letter-spacing:-0.117px;">24 hours</span>
<svg style="left:1074.6px;top:880.6px" width="9.8" height="5.3"><path d="M0 0 L4.9 5.3 L9.8 0" fill="none" stroke="#7680a0" stroke-width="1.45" stroke-linecap="round" stroke-linejoin="round"/></svg>
<span class="t" style="left:341.00px;top:957px;line-height:14px;font-size:12.6px;color:#99a1b7;-webkit-text-stroke:0.62px #99a1b7;letter-spacing:-0.130px;">PROJECT/CREATED</span>
<span class="t" style="left:564.50px;top:957px;line-height:14px;font-size:12.6px;color:#99a1b7;-webkit-text-stroke:0.62px #99a1b7;letter-spacing:-0.048px;">INTEGRATIONS</span>
<span class="t" style="left:676.50px;top:957px;line-height:14px;font-size:12.6px;color:#99a1b7;-webkit-text-stroke:0.62px #99a1b7;letter-spacing:0.026px;">INTEGRATION NAME</span>
<span class="t" style="left:851.20px;top:938px;line-height:14px;font-size:12.6px;color:#99a1b7;-webkit-text-stroke:0.62px #99a1b7;letter-spacing:0.265px;">LAST</span>
<span class="t" style="left:826.70px;top:957px;line-height:14px;font-size:12.6px;color:#99a1b7;-webkit-text-stroke:0.62px #99a1b7;letter-spacing:0.014px;">EXECUTIONS</span>
<span class="t" style="left:949.60px;top:957px;line-height:14px;font-size:12.6px;color:#99a1b7;-webkit-text-stroke:0.62px #99a1b7;letter-spacing:0.031px;">TRANSACTIONS</span>
<span class="t" style="left:1061.60px;top:938px;line-height:14px;font-size:12.6px;color:#99a1b7;-webkit-text-stroke:0.62px #99a1b7;letter-spacing:-0.154px;">AVG.</span>
<span class="t" style="left:1061.60px;top:957px;line-height:14px;font-size:12.6px;color:#99a1b7;-webkit-text-stroke:0.62px #99a1b7;letter-spacing:-0.227px;">TIME</span>
<div class="hdash" style="left:332px;top:989px;width:769px"></div>
<span class="t" style="left:341.00px;top:1008px;line-height:16px;font-size:14.8px;color:#252f4a;-webkit-text-stroke:0.53px #252f4a;letter-spacing:0.085px;">Monitor. Regression ...</span>
<div class="bdg" style="left:498.4px;top:1006px;width:47.2px;height:21px;background:#e8fff3"></div>
<span class="t" style="left:505.20px;top:1009px;line-height:14px;font-size:11.9px;color:#50cd89;-webkit-text-stroke:0.43px #50cd89;letter-spacing:0.167px;">Active</span>
<div class="abs" style="left:567.2px;top:1008px;width:21.8px;height:22px;border-radius:5px;background:#dbdfe9"></div>
<svg style="left:571.2px;top:1011.6px" width="14" height="14"><path d="M7 1 V13 M1 7 H13" stroke="#8a92ab" stroke-width="1.6" fill="none"/></svg>
<span class="t" style="left:595.20px;top:1011px;line-height:16px;font-size:14.2px;color:#252f4a;">5</span>
<span class="t" style="left:678.20px;top:1007px;line-height:17px;font-size:15.0px;color:#50cd89;-webkit-text-stroke:0.54px #50cd89;">5</span>
<span class="t" style="left:690.00px;top:1007px;line-height:17px;font-size:15.0px;color:#7e8299;">/</span>
<span class="t" style="left:698.60px;top:1007px;line-height:17px;font-size:15.0px;color:#f1416c;-webkit-text-stroke:0.54px #f1416c;">0</span>
<span class="t" style="left:820.60px;top:1007px;line-height:17px;font-size:15.0px;color:#7e8aa8;-webkit-text-stroke:0.54px #7e8aa8;letter-spacing:0.068px;">24 Nov 2023</span>
<span class="t" style="left:964.20px;top:1007px;line-height:17px;font-size:15.0px;color:#252f4a;-webkit-text-stroke:0.54px #252f4a;letter-spacing:0.013px;">31,302</span>
<span class="t" style="left:1010.60px;top:1007px;line-height:17px;font-size:15.0px;color:#8a90a8;letter-spacing:2.233px;">/0</span>
<span class="t" style="left:1061.60px;top:1007px;line-height:17px;font-size:15.0px;color:#252f4a;-webkit-text-stroke:0.54px #252f4a;">5</span>
<span class="t" style="left:1073.80px;top:1007px;line-height:17px;font-size:15.0px;color:#a1a5b7;letter-spacing:-0.300px;">s.</span>
<span class="t" style="left:1193.30px;top:858px;line-height:21px;font-size:18.4px;color:#071437;-webkit-text-stroke:0.66px #071437;letter-spacing:-0.195px;">Integration Summary</span>
<span class="t" style="left:1193.00px;top:886px;line-height:16px;font-size:14.5px;color:#b5b5c3;-webkit-text-stroke:0.20px #b5b5c3;letter-spacing:0.249px;">Records processed during period</span>
<div class="dd" style="left:1430px;top:864px;width:101.7px;height:33.6px"></div>
<span class="t" style="left:1440.80px;top:873px;line-height:15px;font-size:13.4px;color:#4b5675;-webkit-text-stroke:0.19px #4b5675;letter-spacing:-0.202px;">24 hours</span>
<svg style="left:1505.2px;top:878.4px" width="9.8" height="5.3"><path d="M0 0 L4.9 5.3 L9.8 0" fill="none" stroke="#7680a0" stroke-width="1.45" stroke-linecap="round" stroke-linejoin="round"/></svg>
<div class="dd" style="left:1193.2px;top:919px;width:159.8px;height:34px"></div>
<span class="t" style="left:1203.80px;top:928px;line-height:15px;font-size:13.4px;color:#4b5675;-webkit-text-stroke:0.19px #4b5675;letter-spacing:-0.092px;">Monitor. Regress...</span>
<svg style="left:1326.4px;top:933.2px" width="9.8" height="5.3"><path d="M0 0 L4.9 5.3 L9.8 0" fill="none" stroke="#7680a0" stroke-width="1.45" stroke-linecap="round" stroke-linejoin="round"/></svg>
<div class="dd" style="left:1372.4px;top:919px;width:159.4px;height:34px"></div>
<span class="t" style="left:1383.40px;top:928px;line-height:15px;font-size:13.4px;color:#4b5675;-webkit-text-stroke:0.19px #4b5675;letter-spacing:-0.235px;">Scheduled | 1m</span>
<svg style="left:1505.2px;top:933.2px" width="9.8" height="5.3"><path d="M0 0 L4.9 5.3 L9.8 0" fill="none" stroke="#7680a0" stroke-width="1.45" stroke-linecap="round" stroke-linejoin="round"/></svg>
<span class="t" style="left:1194.00px;top:1017px;line-height:16px;font-size:14.5px;color:#b5b5c3;-webkit-text-stroke:0.20px #b5b5c3;letter-spacing:0.140px;">Synced</span>
<span class="t" style="left:1336.40px;top:1017px;line-height:16px;font-size:14.5px;color:#b5b5c3;-webkit-text-stroke:0.20px #b5b5c3;letter-spacing:0.256px;">Not Synced</span>
<div class="abs" style="left:1303px;top:976px;width:0;height:60px;border-left:1px dashed #f0f0f4"></div>
<span class="t" style="left:333.00px;top:250px;line-height:37px;font-size:33.5px;color:#50cd89;-webkit-text-stroke:1.50px #50cd89;transform:scaleX(1.1);transform-origin:0 0;">4</span><span class="t" style="left:350.20px;top:250px;line-height:37px;font-size:33.5px;color:#50cd89;-webkit-text-stroke:1.50px #50cd89;transform:scaleX(1.1);transform-origin:0 0;">,</span><span class="t" style="left:354.61px;top:250px;line-height:37px;font-size:33.5px;color:#50cd89;-webkit-text-stroke:1.50px #50cd89;transform:scaleX(1.1);transform-origin:0 0;clip-path:polygon(0 0,100% 0,100% 26px,12.4px 26px,12.4px 100%,7.1px 100%,7.1px 26px,0 26px);">1</span><span class="t" style="left:371.20px;top:250px;line-height:37px;font-size:33.5px;color:#50cd89;-webkit-text-stroke:1.50px #50cd89;transform:scaleX(1.1);transform-origin:0 0;">8</span><span class="t" style="left:391.00px;top:250px;line-height:37px;font-size:33.5px;color:#50cd89;-webkit-text-stroke:1.50px #50cd89;transform:scaleX(1.1);transform-origin:0 0;">6</span>
<span class="t" style="left:482.60px;top:250px;line-height:37px;font-size:33.5px;color:#f1416c;-webkit-text-stroke:1.50px #f1416c;transform:scaleX(1.1);transform-origin:0 0;">0</span>
<span class="t" style="left:1192.21px;top:973px;line-height:37px;font-size:33.5px;color:#50cd89;-webkit-text-stroke:1.50px #50cd89;transform:scaleX(1.1);transform-origin:0 0;clip-path:polygon(0 0,100% 0,100% 26px,12.4px 26px,12.4px 100%,7.1px 100%,7.1px 26px,0 26px);">1</span><span class="t" style="left:1205.20px;top:973px;line-height:37px;font-size:33.5px;color:#50cd89;-webkit-text-stroke:1.50px #50cd89;transform:scaleX(1.1);transform-origin:0 0;">,</span><span class="t" style="left:1210.21px;top:973px;line-height:37px;font-size:33.5px;color:#50cd89;-webkit-text-stroke:1.50px #50cd89;transform:scaleX(1.1);transform-origin:0 0;clip-path:polygon(0 0,100% 0,100% 26px,12.4px 26px,12.4px 100%,7.1px 100%,7.1px 26px,0 26px);">1</span><span class="t" style="left:1227.00px;top:973px;line-height:37px;font-size:33.5px;color:#50cd89;-webkit-text-stroke:1.50px #50cd89;transform:scaleX(1.1);transform-origin:0 0;">5</span><span class="t" style="left:1246.10px;top:973px;line-height:37px;font-size:33.5px;color:#50cd89;-webkit-text-stroke:1.50px #50cd89;transform:scaleX(1.1);transform-origin:0 0;">6</span>
<span class="t" style="left:1337.20px;top:973px;line-height:37px;font-size:33.5px;color:#f1416c;-webkit-text-stroke:1.50px #f1416c;transform:scaleX(1.1);transform-origin:0 0;">0</span>
</div></body></html>
